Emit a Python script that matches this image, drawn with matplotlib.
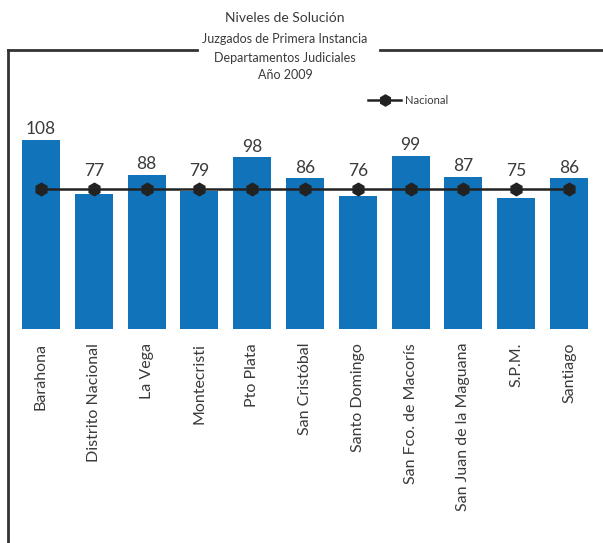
import matplotlib
matplotlib.use("Agg")
import matplotlib.pyplot as plt
from matplotlib.lines import Line2D

categories = ["Barahona", "Distrito Nacional", "La Vega", "Montecristi", "Pto Plata",
              "San Cristóbal", "Santo Domingo", "San Fco. de Macorís",
              "San Juan de la Maguana", "S.P.M.", "Santiago"]
values = [108, 77, 88, 79, 98, 86, 76, 99, 87, 75, 86]
nacional = [80] * len(categories)

W, H = 603, 543
fig = plt.figure(figsize=(W / 100, H / 100), dpi=100)
plt.rcParams['font.family'] = ['Lato', 'DejaVu Sans']
txt = '#3a3a3a'
blue = '#1174bb'
fw = 'normal'

ax = fig.add_axes([14.6 / W, 214 / H, 580.8 / W, 279 / H])
x = list(range(len(categories)))
ax.bar(x, values, width=0.72, color=blue, zorder=2)
ax.plot(x, nacional, color='#222222', lw=1.8, marker='h', markersize=9, zorder=3)
for xi, v, n in zip(x, values, nacional):
    base = v if v > n else n + 4
    ax.text(xi, base + 6, str(v), ha='center', va='center', fontsize=12.5,
            color=txt, fontweight=fw)
ax.set_xlim(-0.5, len(categories) - 0.5)
ax.set_ylim(0, 159.4)
ax.set_xticks(x)
ax.set_xticklabels(categories, rotation=90, fontsize=11.5, color=txt, va='top',
                   fontweight=fw)
ax.tick_params(axis='x', length=0, pad=10)
ax.set_yticks([])
for s in ax.spines.values():
    s.set_visible(False)

# frame lines
fc = '#333333'
fig.add_artist(Line2D([8 / W, 197 / W], [1 - 50 / H, 1 - 50 / H], color=fc, lw=2))
fig.add_artist(Line2D([380 / W, 1.0], [1 - 50 / H, 1 - 50 / H], color=fc, lw=2))
fig.add_artist(Line2D([8 / W, 8 / W], [1 - 50 / H, 0], color=fc, lw=2))

# titles
cx = 285 / W
fig.text(cx, 1 - 18 / H, "Niveles de Solución", ha='center', va='center', fontsize=10,
         color=txt, fontweight=fw)
fig.text(cx, 1 - 39 / H, "Juzgados de Primera Instancia", ha='center', va='center',
         fontsize=9, color=txt, fontweight=fw)
fig.text(cx, 1 - 58 / H, "Departamentos Judiciales", ha='center', va='center',
         fontsize=9, color=txt, fontweight=fw)
fig.text(cx, 1 - 75 / H, "Año 2009", ha='center', va='center', fontsize=9,
         color=txt, fontweight=fw)

# legend
ly = 1 - 100 / H
fig.add_artist(Line2D([368 / W, 401 / W], [ly, ly], color='#222222', lw=1.8))
fig.add_artist(Line2D([385 / W], [ly], color='#222222', marker='h', markersize=8, lw=0))
fig.text(405 / W, ly, "Nacional", ha='left', va='center', fontsize=8, color=txt,
         fontweight=fw)

fig.savefig("out.png", dpi=100)
